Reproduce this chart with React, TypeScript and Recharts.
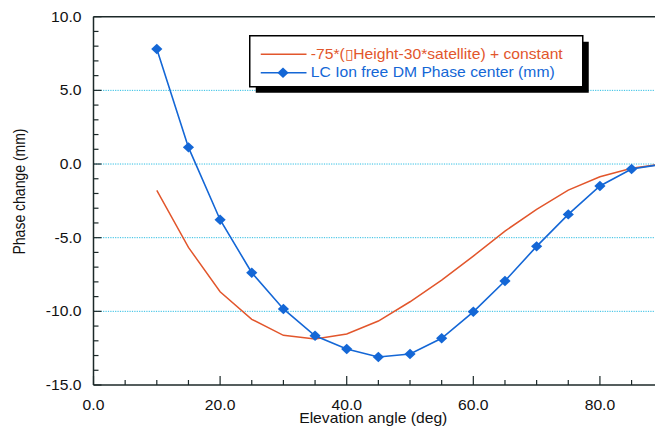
import React from 'react';
import { LineChart, Line, XAxis, YAxis, ReferenceLine, Legend } from 'recharts';

// elevation angle in degrees
const elevation = [10, 15, 20, 25, 30, 35, 40, 45, 50, 55, 60, 65, 70, 75, 80, 85, 90];
// -75*(dHeight-30*satellite) + constant
const modelCurve = [-1.79, -5.66, -8.67, -10.54, -11.63, -11.88, -11.54, -10.66, -9.35, -7.88, -6.25, -4.55, -3.08, -1.77, -0.86, -0.29, 0.0];
// LC ion free DM phase center (mm)
const phaseCenter = [7.81, 1.13, -3.78, -7.38, -9.84, -11.66, -12.56, -13.1, -12.9, -11.83, -10.03, -7.94, -5.59, -3.42, -1.49, -0.34, 0.0];

const seriesNames = ['-75*(\u25AFHeight-30*satellite) + constant', 'LC Ion free DM Phase center (mm)'];

const xTicks = [0, 5, 10, 15, 20, 25, 30, 35, 40, 45, 50, 55, 60, 65, 70, 75, 80, 85];
const xLabelTicks = [0, 20, 40, 60, 80];
const yTicks = [-15, -14, -13, -12, -11, -10, -9, -8, -7, -6, -5, -4, -3, -2, -1, 0, 1, 2, 3, 4, 5, 6, 7, 8, 9, 10];
const yLabelTicks = [-15, -10, -5, 0, 5, 10];
const gridLines = [-10, -5, 0, 5];

const data = elevation.map((e, i) => ({ elev: e, model: modelCurve[i], dm: phaseCenter[i] }));

const ORANGE = '#e2562c';
const BLUE = '#1467d6';
const AXIS = '#1c2929';
const GRID = '#2bbde3';
const FONT = '"Liberation Sans", Arial, Helvetica, sans-serif';
const SX = 1.12; // the reference is stretched horizontally a bit

const XTick = (props: any) => {
	const { x, y, payload } = props;
	const v = payload.value;
	const major = xLabelTicks.includes(v);
	return (
		<g>
			<line x1={x} y1={y} x2={x} y2={y - (major ? 9 : 5)} stroke={AXIS} strokeWidth={1.2} />
			{major && (
				<text transform={`translate(${x},${y + 25}) scale(${SX},1)`} textAnchor="middle"
					fontFamily={FONT} fontSize={14} fill="#111">{v.toFixed(1)}</text>
			)}
		</g>
	);
};

const YTick = (props: any) => {
	const { x, y, payload } = props;
	const v = payload.value;
	const major = yLabelTicks.includes(v);
	return (
		<g>
			<line x1={x} y1={y} x2={x + (major ? 8 : 5)} y2={y} stroke={AXIS} strokeWidth={1.2} />
			{major && (
				<text transform={`translate(${x - 12},${y + 5}) scale(${SX},1)`} textAnchor="end"
					fontFamily={FONT} fontSize={14} fill="#111">{v.toFixed(1)}</text>
			)}
		</g>
	);
};

const Diamond = (props: any) =>
{
	const { cx, cy, index } = props;
	if (cx == null || cy == null) return <g key={index} />;
	return <path key={index} d={`M${cx},${cy - 5.2}L${cx + 5.6},${cy}L${cx},${cy + 5.2}L${cx - 5.6},${cy}Z`} fill={BLUE} />;
};

const LegendBox = (props: any) =>
{
	const items = props.payload || [];
	return (
		<svg width={345} height={62} style={{ display: 'block' }}>
			<rect x={6.75} y={6.75} width={333} height={51} fill="#000" />
			<rect x={0.75} y={0.75} width={333} height={51} fill="#fff" stroke="#000" strokeWidth={1.5} />
			{items.map((it: any, i: number) =>
			{
				const ly = 19.3 + i * 18.4;
				const color = it.color;
				return (
					<g key={i}>
						<line x1={11.75} y1={ly} x2={57.5} y2={ly} stroke={color} strokeWidth={1.5} />
						{i === 1 && <path d={`M34,${ly - 5.2}L39.6,${ly}L34,${ly + 5.2}L28.4,${ly}Z`} fill={color} />}
						<text transform={`translate(61.75,${ly + 4.2}) scale(${SX},1)`} fontFamily={FONT}
							fontSize={14} fill={color}>{it.value}</text>
					</g>
				);
			})}
		</svg>
	);
};

export default function App()
{
	return (
		<div style={{ position: 'absolute', left: 0, top: 0 }}>
			<LineChart width={655} height={427} data={data} margin={{ top: 16.7, right: 0, bottom: 0, left: 0 }}>
				{gridLines.map((g) => (
					<ReferenceLine key={g} y={g} stroke={GRID} strokeDasharray="1.2 1.2" strokeWidth={1} />
				))}
				<ReferenceLine y={10} stroke={AXIS} strokeWidth={1.5} />
				<XAxis
					dataKey="elev"
					type="number"
					domain={[0, 88.7]}
					allowDataOverflow
					ticks={xTicks}
					interval={0}
					height={42}
					tickSize={0}
					tickMargin={0}
					tickLine={false}
					tick={<XTick />}
					axisLine={{ stroke: AXIS, strokeWidth: 1.5 }}
					label={{
						content: (p: any) => (
							<text transform={`translate(${p.viewBox.x + p.viewBox.width / 2 - 1},422.5) scale(${SX},1)`}
								textAnchor="middle" fontFamily={FONT} fontSize={14} fill="#111">Elevation angle (deg)</text>
						),
					}}
				/>
				<YAxis
					type="number"
					domain={[-15, 10]}
					allowDataOverflow
					ticks={yTicks}
					interval={0}
					width={93.5}
					tickSize={0}
					tickMargin={0}
					tickLine={false}
					tick={<YTick />}
					axisLine={{ stroke: AXIS, strokeWidth: 1.5 }}
					label={{
						content: () => (
							<text transform={`translate(25,191.5) scale(${SX},1) rotate(-90)`} textAnchor="middle"
								fontFamily={FONT} fontSize={14} fill="#111">Phase change (mm)</text>
						),
					}}
				/>
				<Legend
					layout="vertical"
					align="center"
					verticalAlign="middle"
					content={<LegendBox />}
					wrapperStyle={{ left: 249.25, top: 35, width: 345, height: 62 }}
				/>
				<Line
					type="linear"
					dataKey="model"
					name={seriesNames[0]}
					stroke={ORANGE}
					strokeWidth={1.5}
					dot={false}
					activeDot={false}
					isAnimationActive={false}
				/>
				<Line
					type="linear"
					dataKey="dm"
					name={seriesNames[1]}
					stroke={BLUE}
					strokeWidth={1.6}
					dot={<Diamond />}
					activeDot={false}
					isAnimationActive={false}
				/>
			</LineChart>
		</div>
	);
}
